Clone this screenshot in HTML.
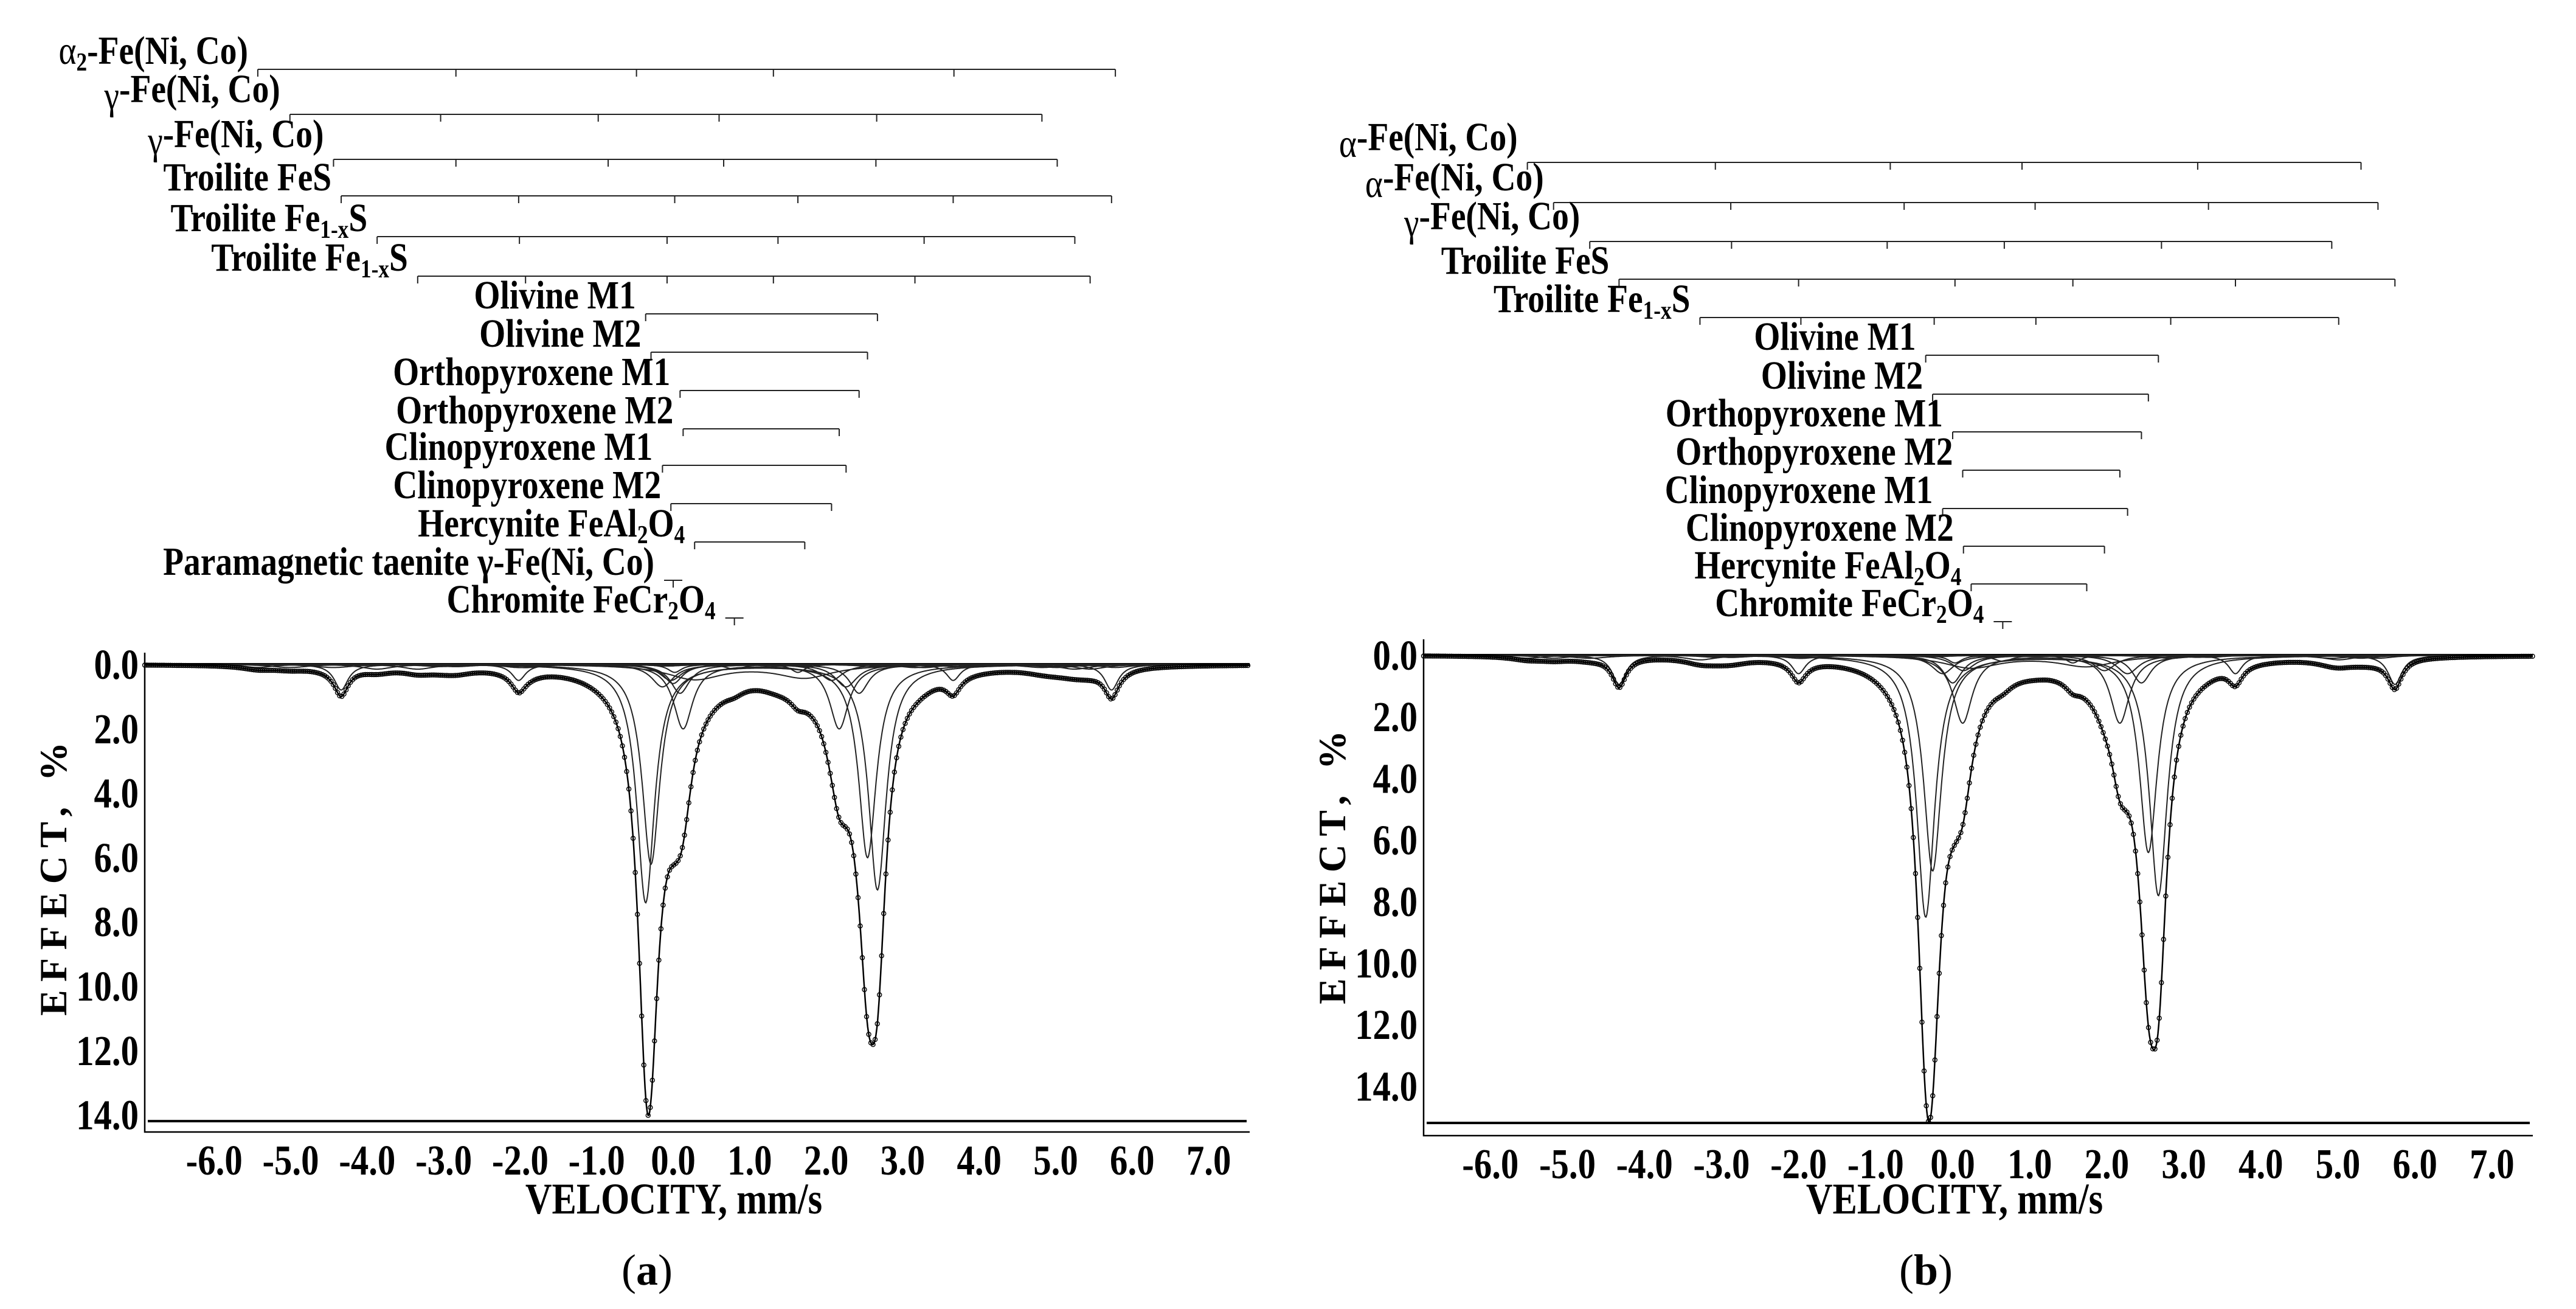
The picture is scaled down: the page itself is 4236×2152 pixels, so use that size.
<!DOCTYPE html>
<html><head><meta charset="utf-8"><style>
html,body{margin:0;padding:0;background:#fff;}
svg{display:block;}
text{font-family:"Liberation Serif",serif;fill:#000;}
</style></head><body>
<svg id="fig" xmlns="http://www.w3.org/2000/svg" width="4236" height="2152" viewBox="0 0 4236 2152">
<rect width="4236" height="2152" fill="#fff"/>
</svg>
<script>
// ---------- DATA: panel (a) ----------
const namesA = ["a2-FeNiCo","g-FeNiCo-1","g-FeNiCo-2","troilite-FeS","troilite-Fe1xS-1","troilite-Fe1xS-2","olivine-M1","olivine-M2","orthopyroxene-M1","orthopyroxene-M2","clinopyroxene-M1","clinopyroxene-M2","hercynite","taenite-para","chromite"];
const labelsA = [["α","2","-Fe(Ni, Co)"],["γ","","-Fe(Ni, Co)"],["γ","","-Fe(Ni, Co)"],["Troilite FeS"],["Troilite Fe","1-x","S"],["Troilite Fe","1-x","S"],["Olivine M1"],["Olivine M2"],["Orthopyroxene M1"],["Orthopyroxene M2"],["Clinopyroxene M1"],["Clinopyroxene M2"],["Hercynite FeAl","2","O","4",""],["Paramagnetic  taenite γ-Fe(Ni, Co)"],["Chromite FeCr","2","O","4",""]];
const posA = [[-5.43,-2.84,-0.48,1.31,3.67,5.78],[-5.01,-3.04,-0.98,0.6,2.66,4.82],[-4.44,-2.84,-0.85,0.66,2.65,5.02],[-4.34,-2.02,0.02,1.63,3.66,5.73],[-3.87,-2.01,-0.08,1.37,3.28,5.25],[-3.34,-1.93,-0.08,1.31,3.16,5.45],[-0.36,2.67],[-0.29,2.54],[0.09,2.43],[0.13,2.17],[-0.14,2.26],[-0.03,2.07],[0.28,1.72],[0.0],[0.8]];
const depthA = [[0.1,0.07,0.03,0.03,0.07,0.1],[0.1,0.07,0.03,0.03,0.07,0.1],[0.1,0.07,0.03,0.03,0.07,0.1],[0.8,0.5,0.25,0.25,0.5,0.8],[0.15,0.1,0.05,0.05,0.1,0.15],[0.15,0.1,0.05,0.05,0.1,0.15],[7.4,7.0],[6.2,6.0],[0.9,0.9],[2.0,2.0],[0.7,0.7],[0.5,0.5],[0.45,0.4],[0.6],[0.15]];
const widthA = [0.5,0.6,0.6,0.22,0.5,0.5,0.28,0.28,0.3,0.3,0.35,0.35,0.9,0.3,0.3];
// ---------- DATA: panel (b) ----------
const namesB = ["a-FeNiCo-1","a-FeNiCo-2","g-FeNiCo","troilite-FeS","troilite-Fe1xS","olivine-M1","olivine-M2","orthopyroxene-M1","orthopyroxene-M2","clinopyroxene-M1","clinopyroxene-M2","hercynite","chromite"];
const labelsB = [["α","","-Fe(Ni, Co)"],["α","","-Fe(Ni, Co)"],["γ","","-Fe(Ni, Co)"],["Troilite FeS"],["Troilite Fe","1-x","S"],["Olivine M1"],["Olivine M2"],["Orthopyroxene M1"],["Orthopyroxene M2"],["Clinopyroxene M1"],["Clinopyroxene M2"],["Hercynite FeAl","2","O","4",""],["Chromite FeCr","2","O","4",""]];
const posB = [[-5.52,-3.08,-0.81,0.90,3.18,5.30],[-5.18,-2.88,-0.63,1.07,3.32,5.52],[-4.71,-2.87,-0.85,0.67,2.71,4.92],[-4.33,-2.0,0.03,1.56,3.67,5.74],[-3.28,-1.97,-0.24,1.08,2.83,5.01],[-0.35,2.67],[-0.26,2.54],[0.0,2.45],[0.13,2.17],[-0.13,2.27],[0.14,1.97],[0.24,1.74],[0.65]];
const depthB = [[0.1,0.07,0.03,0.03,0.07,0.1],[0.1,0.07,0.03,0.03,0.07,0.1],[0.1,0.07,0.03,0.03,0.07,0.1],[0.95,0.6,0.25,0.25,0.6,0.95],[0.15,0.1,0.05,0.05,0.1,0.15],[8.5,7.8],[7.0,6.4],[0.9,0.9],[2.2,2.2],[0.6,0.6],[0.5,0.5],[0.4,0.35],[0.2]];
const widthB = [0.5,0.5,0.6,0.22,0.5,0.28,0.28,0.3,0.3,0.35,0.35,0.9,0.3];
const xTicks = [-6,-5,-4,-3,-2,-1,0,1,2,3,4,5,6,7];
const yTicksA = [0,2,4,6,8,10,12,14];
const yTicksB = [0,2,4,6,8,10,12,14];

const NS="http://www.w3.org/2000/svg";
const svg=document.getElementById('fig');
function mk(tag,attrs,parent){const e=document.createElementNS(NS,tag);for(const k in attrs)e.setAttribute(k,attrs[k]);(parent||svg).appendChild(e);return e;}
const SX=0.84;

function drawPanel(P){
  const g=mk('g',{});
  
  
  const X=v=>P.x0+v*P.ux, Y=d=>P.y0+d*P.uy;
  const vmin=(P.left-P.x0)/P.ux, vmax=(P.right-P.x0)/P.ux;
  const comp=(i,v)=>{let s=0;const hw=P.width[i]/2;P.pos[i].forEach((p,j)=>{const t=(v-p)/hw;s+=P.depth[i][j]/(1+t*t);});return s;};
  P.rows.forEach((ry,i)=>{
    const bg=mk('g',{},g);
    
    
    const ps=P.pos[i];
    let x1,x2;
    if(ps.length===1){x1=X(ps[0])-15;x2=X(ps[0])+15;
      mk('line',{x1:x1,x2:x2,y1:ry,y2:ry,stroke:'#222','stroke-width':2},bg);
      mk('line',{x1:X(ps[0]),x2:X(ps[0]),y1:ry,y2:ry+12,stroke:'#222','stroke-width':2},bg);
    } else {x1=X(ps[0]);x2=X(ps[ps.length-1]);
      mk('line',{x1:x1,x2:x2,y1:ry,y2:ry,stroke:'#222','stroke-width':2},bg);
      ps.forEach(p=>mk('line',{x1:X(p),x2:X(p),y1:ry,y2:ry+12,stroke:'#222','stroke-width':2},bg));
    }
    const t=mk('text',{x:0,y:0,'text-anchor':'end','font-size':66,'font-weight':'bold',transform:`translate(${x1-16},${ry-9}) scale(${SX},1)`},g);
    
    
    const parts=P.labels[i];
    const greek=/^[αγ]$/.test(parts[0]);
    parts.forEach((s,k)=>{
      const ts=mk('tspan',{},t);
      if(k%2===1){ts.setAttribute('font-size',42);ts.setAttribute('dy',11);}
      else if(k>0){ts.setAttribute('dy',-11);}
      if(k===0&&greek){ts.setAttribute('font-weight','normal');}
      ts.textContent=s;
    });
  });
  const ax=mk('path',{d:`M${P.left},${P.top}V${P.bottom}H${P.right}`,fill:'none',stroke:'#000','stroke-width':2.5},g);
  
  
  mk('line',{x1:P.left,x2:P.right,y1:Y(0),y2:Y(0),stroke:'#000','stroke-width':4},g);
  xTicks.forEach(v=>{
    const t=mk('text',{x:0,y:0,'text-anchor':'middle','font-size':70,'font-weight':'bold',transform:`translate(${X(v)},${P.bottom+70}) scale(${SX},1)`},g);
    
    
    t.textContent=v.toFixed(1);
  });
  P.yTicks.forEach(v=>{
    const t=mk('text',{x:0,y:0,'text-anchor':'end','font-size':70,'font-weight':'bold',transform:`translate(${P.left-10},${Y(v)+24}) scale(${SX},1)`},g);
    
    
    t.textContent=v.toFixed(1);
  });
  const xl=mk('text',{x:0,y:0,'text-anchor':'middle','font-size':72,'font-weight':'bold',transform:`translate(${P.xlabelX},1995) scale(${SX},1)`},g);
  
  
  xl.textContent='VELOCITY,  mm/s';
  const yl=mk('text',{x:0,y:0,'text-anchor':'middle','font-size':64,'font-weight':'bold',textLength:450,lengthAdjust:'spacing',transform:`translate(${P.ylabelX+22},${P.ylabelY}) rotate(-90)`},g);
  
  
  yl.textContent='EFFECT, %';
  const cap=mk('text',{x:P.capX,y:2112,'text-anchor':'middle','font-size':72},g);
  
  
  cap.innerHTML='(<tspan font-weight="bold">'+P.id+'</tspan>)';
  const step=0.01;
  P.names.forEach((n,i)=>{
    let d='';
    for(let v=vmin;v<=vmax;v+=step){d+=(d?'L':'M')+X(v).toFixed(1)+','+Y(comp(i,v)).toFixed(1);}
    const p=mk('path',{d:d,fill:'none',stroke:'#222','stroke-width':2},g);
    
    
  });
  const tot=v=>{let s=0;for(let i=0;i<P.names.length;i++)s+=comp(i,v);return s;};
  let d='';
  for(let v=vmin;v<=vmax;v+=step){d+=(d?'L':'M')+X(v).toFixed(1)+','+Y(tot(v)).toFixed(1);}
  const tp=mk('path',{d:d,fill:'none',stroke:'#000','stroke-width':2.5},g);
  
  
  const pg=mk('g',{fill:'none',stroke:'#000','stroke-width':1.4},g);
  
  
  for(let v=vmin;v<=vmax;v+=0.028){
    mk('circle',{cx:X(v).toFixed(1),cy:Y(tot(v)).toFixed(1),r:3.5},pg);
  }
  const rl=mk('line',{x1:P.left+5,x2:P.right-5,y1:Y(P.resid),y2:Y(P.resid),stroke:'#000','stroke-width':4},g);
  
  
}

drawPanel({id:'a',x0:1107,ux:125.8,y0:1092,uy:52.9,left:238,right:2055,top:1073,bottom:1861,resid:14.2,
  rows:[114,188,262,322,389,454,516,579,642,705,765,828,891,954,1016],
  names:namesA,labels:labelsA,pos:posA,depth:depthA,width:widthA,yTicks:yTicksA,
  xlabelX:1108,ylabelX:87,ylabelY:1445,capX:1064});
drawPanel({id:'b',x0:3211,ux:126.7,y0:1077,uy:50.6,left:2341,right:4165,top:1051,bottom:1867,resid:15.2,
  rows:[267,333,397,459,522,584,648,710,773,836,898,960,1022],
  names:namesB,labels:labelsB,pos:posB,depth:depthB,width:widthB,yTicks:yTicksB,
  xlabelX:3214,ylabelX:2190,ylabelY:1426,capX:3167});
</script>
</body></html>
